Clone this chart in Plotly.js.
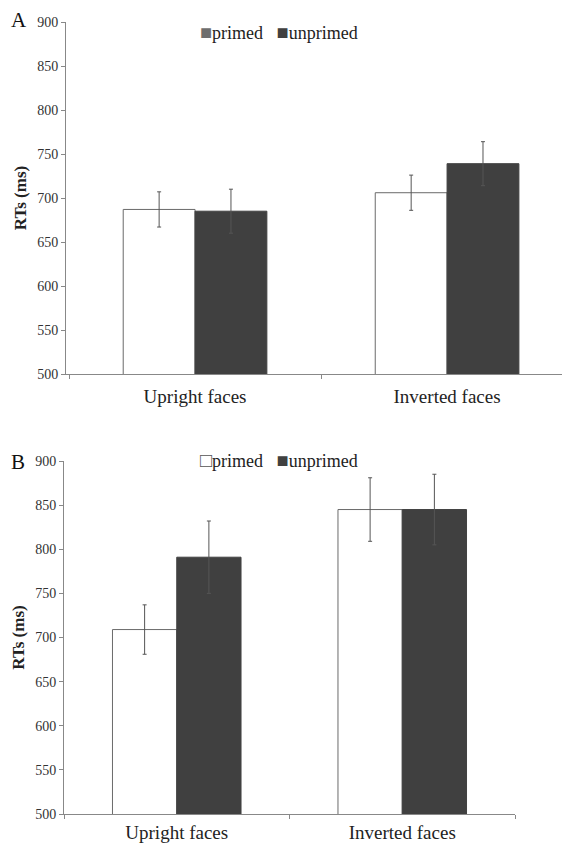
<!DOCTYPE html>
<html>
<head>
<meta charset="utf-8">
<script src="https://cdn.plot.ly/plotly-3.0.1.min.js"></script>
<style>html,body{margin:0;padding:0;background:#fff;}#chart{width:562px;height:844px;}</style>
</head>
<body>
<div id="chart"></div>
<script>
// Data
var categories = ["Upright faces", "Inverted faces"];
var seriesNames = ["primed", "unprimed"];
// Panel A
var primedA = [687, 706];
var primedErrA = [20, 20];
var unprimedA = [685, 739];
var unprimedErrA = [25, 25];
// Panel B
var primedB = [709, 845];
var primedErrB = [28, 36];
var unprimedB = [791, 845];
var unprimedErrB = [41, 40];
var yTicks = [500, 550, 600, 650, 700, 750, 800, 850, 900];

var FONT = "Liberation Serif";
var primedColor = "#ffffff", primedLine = "#6a6a6a";
var unprimedColor = "#404040";

function barTrace(name, y, err, xa, ya, color, lineColor) {
  return {
    type: "bar", name: name, x: categories, y: y, xaxis: xa, yaxis: ya,
    base: 0, showlegend: false,
    marker: {color: color, line: {color: lineColor, width: 1}},
    error_y: {type: "data", array: err, visible: true, color: "#555555", thickness: 1, width: 2}
  };
}

var data = [
  barTrace(seriesNames[0], primedA, primedErrA, "x", "y", primedColor, primedLine),
  barTrace(seriesNames[1], unprimedA, unprimedErrA, "x", "y", unprimedColor, unprimedColor),
  barTrace(seriesNames[0], primedB, primedErrB, "x2", "y2", primedColor, primedLine),
  barTrace(seriesNames[1], unprimedB, unprimedErrB, "x2", "y2", unprimedColor, unprimedColor)
];

function yAxis(domain, anchor) {
  return {
    domain: domain, anchor: anchor, range: [500, 900], tickvals: yTicks,
    showgrid: false, zeroline: false, showline: true, linecolor: "#888", linewidth: 1,
    ticks: "outside", ticklen: 4, tickcolor: "#888",
    tickfont: {family: FONT, size: 14, color: "#333"},
    title: {text: "<b>RTs (ms)</b>", font: {family: FONT, size: 17, color: "#222"}, standoff: 6}
  };
}
function xAxis(domain, range, anchor, standoff) {
  return {
    domain: domain, range: range, anchor: anchor, type: "category",
    showgrid: false, zeroline: false, showline: true, linecolor: "#888", linewidth: 1,
    ticks: "outside", tickson: "boundaries", ticklen: 4, tickcolor: "#888",
    ticklabelstandoff: standoff,
    tickfont: {family: FONT, size: 19, color: "#222"}
  };
}

var sq = function (c) { return '<span style="font-size:20px;color:' + c + '">■</span>'; };
var sqOpen = function (c) { return '<span style="font-size:20px;color:' + c + '">□</span>'; };

var layout = {
  width: 562, height: 844,
  margin: {l: 0, r: 0, t: 0, b: 0},
  paper_bgcolor: "#fff", plot_bgcolor: "#fff",
  barmode: "group", bargap: 0.43, bargroupgap: 0,
  showlegend: false,
  xaxis: xAxis([66/562, 1], [-0.512, 1.456], "y", 5),
  yaxis: yAxis([1 - 374/844, 1 - 22/844], "x"),
  xaxis2: xAxis([64/562, 515/562], [-0.5, 1.5], "y2", 1),
  yaxis2: yAxis([1 - 814/844, 1 - 461/844], "x2"),
  annotations: [
    {text: "A", xref: "paper", yref: "paper", x: 9/562, y: 1 - 20/844, xanchor: "left", yanchor: "middle", showarrow: false, font: {family: FONT, size: 21, color: "#111"}},
    {text: "B", xref: "paper", yref: "paper", x: 9/562, y: 1 - 462/844, xanchor: "left", yanchor: "middle", showarrow: false, font: {family: FONT, size: 21, color: "#111"}},
    {text: sq("#6e6e6e") + seriesNames[0] + '   ' + sq("#404040") + seriesNames[1],
     xref: "paper", yref: "paper", x: 198/562, y: 1 - 32/844, xanchor: "left", yanchor: "middle", showarrow: false, font: {family: FONT, size: 18, color: "#222"}},
    {text: sqOpen("#555") + seriesNames[0] + '   ' + sq("#404040") + seriesNames[1],
     xref: "paper", yref: "paper", x: 198/562, y: 1 - 460/844, xanchor: "left", yanchor: "middle", showarrow: false, font: {family: FONT, size: 18, color: "#222"}}
  ]
};

Plotly.newPlot("chart", data, layout, {staticPlot: true, displayModeBar: false});
</script>
</body>
</html>
